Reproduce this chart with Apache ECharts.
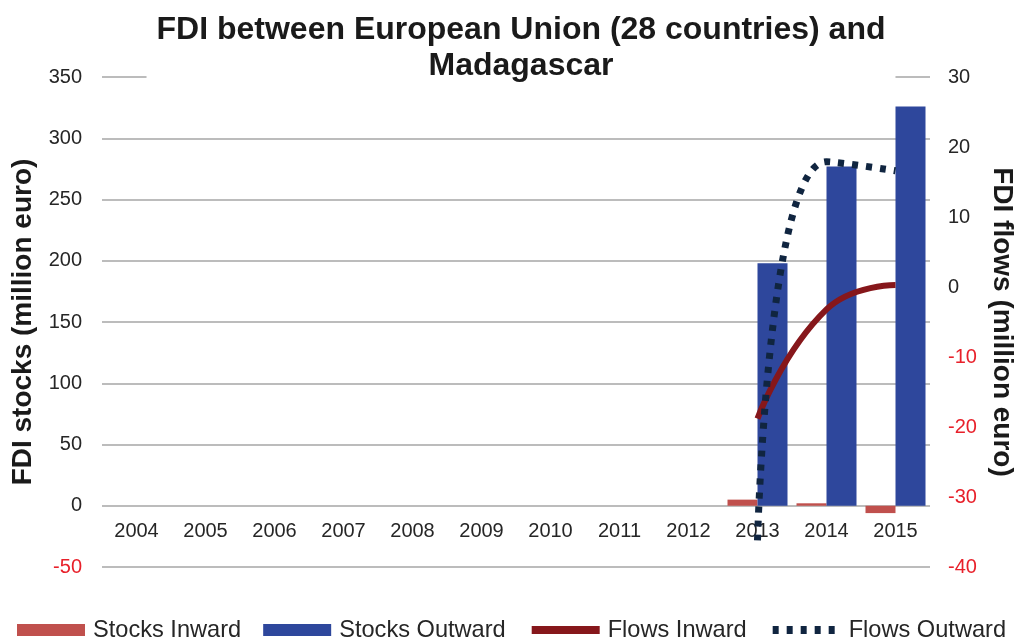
<!DOCTYPE html>
<html>
<head>
<meta charset="utf-8">
<script src="https://cdn.jsdelivr.net/npm/echarts@6/dist/echarts.min.js"></script>
<style>
  html, body { margin: 0; padding: 0; background: #fff; }
  #fdi { width: 1016px; height: 644px; }
</style>
</head>
<body>
<div id="fdi"></div>
<script>
// years on the x axis
const years = ["2004", "2005", "2006", "2007", "2008", "2009", "2010", "2011", "2012", "2013", "2014", "2015"];
// stocks, million euro (left axis)
const stocksInward = [null, null, null, null, null, null, null, null, null, 5, 2, -6];
const stocksOutward = [null, null, null, null, null, null, null, null, null, 198, 277, 326];
// flows, million euro (right axis)
const flowsInward = [null, null, null, null, null, null, null, null, null, -18.8, -3.2, 0.3];
const flowsOutward = [null, null, null, null, null, null, null, null, null, -36.2, 17.9, 16.6];

const font = "Liberation Sans, Arial, sans-serif";
const gridColor = "#a6a6a6";
const negRed = "#e8202a";

const chart = echarts.init(document.getElementById("fdi"));
chart.setOption({
  animation: false,
  title: {
    text: "FDI between European Union (28 countries) and\nMadagascar",
    left: 511,
    top: 8,
    padding: [4, 10, 4, 10],
    backgroundColor: "#fff",
    textAlign: "center",
    textStyle: {
      fontFamily: font,
      fontSize: 32,
      fontWeight: "bold",
      lineHeight: 36,
      color: "#1a1a1a",
    },
  },
  legend: {
    left: 17,
    top: 618,
    width: 1200,
    padding: 0,
    itemWidth: 68,
    itemHeight: 12,
    itemGap: 22,
    textStyle: {
      fontFamily: font,
      fontSize: 23.6,
      color: "#262626",
      padding: [0, 0, 0, 3],
    },
    data: [
      { name: "Stocks Inward", icon: "rect" },
      { name: "Stocks Outward", icon: "rect" },
      { name: "Flows Inward", itemStyle: { opacity: 0 }, lineStyle: { width: 8 } },
      { name: "Flows Outward", itemStyle: { opacity: 0 }, lineStyle: { width: 8 } },
    ],
  },
  grid: {
    left: 102,
    right: 86,
    top: 77,
    bottom: 77,
    outerBoundsMode: "none",
  },
  xAxis: {
    type: "category",
    data: years,
    offset: -62, // labels sit under the zero line of the stocks axis
    axisTick: { show: false },
    axisLine: { show: false, onZero: false },
    axisLabel: {
      margin: 16,
      fontFamily: font,
      fontSize: 20,
      color: "#262626",
      interval: 0,
    },
  },
  yAxis: [
    {
      type: "value",
      min: -50,
      max: 350,
      interval: 50,
      name: "FDI stocks (million euro)",
      nameLocation: "middle",
      nameRotate: 90,
      nameGap: 62,
      nameTextStyle: {
        fontFamily: font,
        fontSize: 28,
        fontWeight: "bold",
        color: "#1a1a1a",
      },
      axisLine: { show: false },
      axisTick: { show: false },
      splitLine: { lineStyle: { color: gridColor, width: 1.5 } },
      axisLabel: {
        margin: 20,
        fontFamily: font,
        fontSize: 20,
        color: (v) => (v < 0 ? negRed : "#262626"),
      },
    },
    {
      type: "value",
      min: -40,
      max: 30,
      interval: 10,
      name: "FDI flows (million euro)",
      nameLocation: "middle",
      nameRotate: -90,
      nameGap: 58,
      nameTextStyle: {
        fontFamily: font,
        fontSize: 28,
        fontWeight: "bold",
        color: "#1a1a1a",
      },
      axisLine: { show: false },
      axisTick: { show: false },
      splitLine: { show: false },
      axisLabel: {
        margin: 18,
        fontFamily: font,
        fontSize: 20,
        color: (v) => (v < 0 ? negRed : "#262626"),
      },
    },
  ],
  series: [
    {
      name: "Stocks Inward",
      type: "bar",
      yAxisIndex: 0,
      barWidth: 30,
      barGap: "0%",
      itemStyle: { color: "#c0504d" },
      data: stocksInward,
    },
    {
      name: "Stocks Outward",
      type: "bar",
      yAxisIndex: 0,
      barWidth: 30,
      barGap: "0%",
      itemStyle: { color: "#2e479c" },
      data: stocksOutward,
    },
    {
      name: "Flows Inward",
      type: "line",
      yAxisIndex: 1,
      smooth: 0.5,
      symbol: "none",
      lineStyle: { color: "#86171b", width: 6, cap: "butt" },
      itemStyle: { color: "#86171b" },
      data: flowsInward,
    },
    {
      name: "Flows Outward",
      type: "line",
      yAxisIndex: 1,
      smooth: 0.5,
      symbol: "none",
      lineStyle: { color: "#102540", width: 7, type: [6, 8], cap: "butt" },
      itemStyle: { color: "#102540" },
      data: flowsOutward,
    },
  ],
});
</script>
</body>
</html>
